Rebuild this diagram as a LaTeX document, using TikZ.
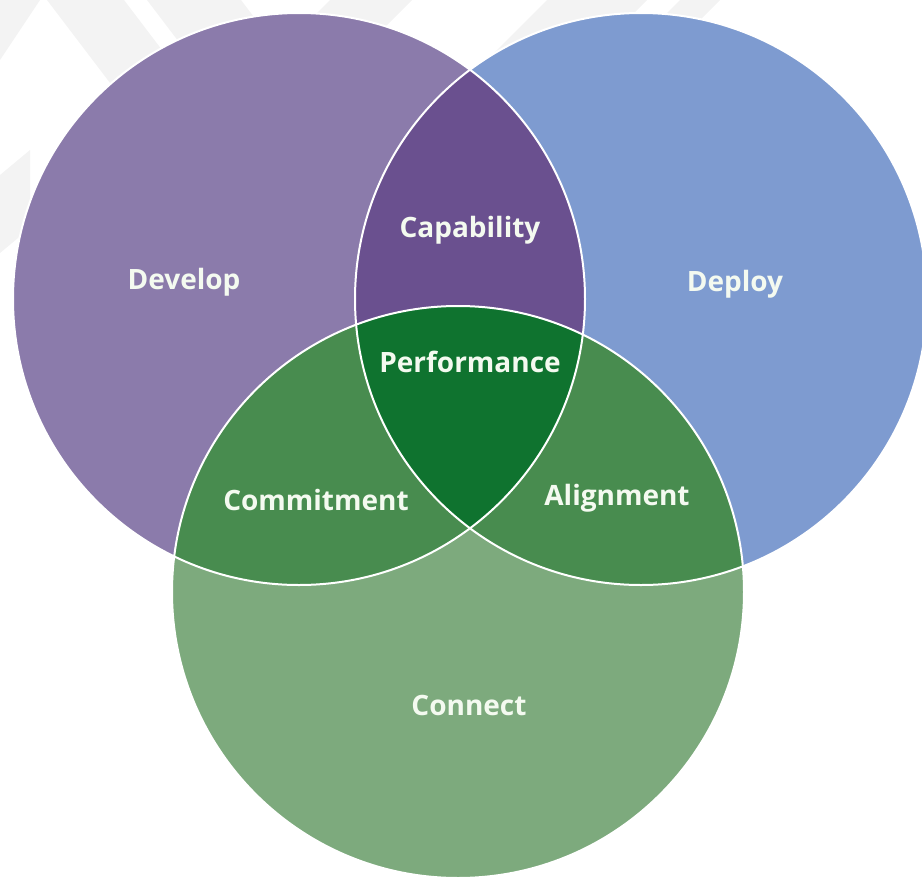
\documentclass[tikz,border=0pt]{standalone}
\usepackage{fontspec}
\setmainfont{Open Sans}
\definecolor{devc}{HTML}{8B7BAB}
\definecolor{depc}{HTML}{7E9BD0}
\definecolor{capc}{HTML}{6A508F}
\definecolor{conc}{HTML}{7DAA7D}
\definecolor{midg}{HTML}{488C4F}
\definecolor{perf}{HTML}{0F732F}
\definecolor{txtc}{HTML}{F4FAF0}
\definecolor{wmark}{HTML}{F3F3F3}
\begin{document}
\begin{tikzpicture}[x=1pt,y=-1pt,
  lbl/.style={text=txtc, font=\fontsize{28}{32}\selectfont\bfseries, inner sep=0pt},
  rim/.style={draw=white, line width=2pt}]
\useasboundingbox (0,0) rectangle (922,881);
% faint watermark
\fill[wmark] (0,0) -- (40,0) -- (0,60) -- cycle;
\fill[wmark] (47,0) -- (124,0) -- (200,100) -- (123,100) -- cycle;
\fill[wmark] (147,0) -- (241,0) -- (317,100) -- (223,100) -- cycle;
\fill[wmark] (330,0) -- (412,0) -- (312,100) -- (230,100) -- cycle;
\fill[wmark] (547,0) -- (647,0) -- (547,100) -- (447,100) -- cycle;
\fill[wmark] (680,0) -- (720,0) -- (690,30) -- (650,30) -- cycle;
\fill[wmark] (0,175) -- (30,150) -- (30,228) -- (0,253) -- cycle;
% circle centres
\coordinate (cD) at (299,299);
\coordinate (cP) at (641,299);
\coordinate (cC) at (458,592);
% base circles
\fill[devc] (cD) circle (286pt);
\fill[depc] (cP) circle (286pt);
\fill[conc] (cC) circle (286pt);
% pairwise overlaps
\begin{scope}
  \clip (cD) circle (286pt);
  \fill[capc] (cP) circle (286pt);
\end{scope}
\begin{scope}
  \clip (cC) circle (286pt);
  \fill[midg] (cD) circle (286pt);
  \fill[midg] (cP) circle (286pt);
\end{scope}
% triple overlap
\begin{scope}
  \clip (cC) circle (286pt);
  \clip (cD) circle (286pt);
  \fill[perf] (cP) circle (286pt);
\end{scope}
% white rims
\draw[rim] (cD) circle (286pt);
\draw[rim] (cP) circle (286pt);
\draw[rim] (cC) circle (286pt);
% labels
\node[lbl] (develop) at (184,282) {Develop};
\node[lbl] (deploy) at (735,284) {Deploy};
\node[lbl] (capability) at (470,230) {Capability};
\node[lbl] (performance) at (470,362) {Performance};
\node[lbl] (commitment) at (316,500) {Commitment};
\node[lbl] (alignment) at (617,498) {Alignment};
\node[lbl] (connect) at (469,705) {Connect};
\end{tikzpicture}
\end{document}
